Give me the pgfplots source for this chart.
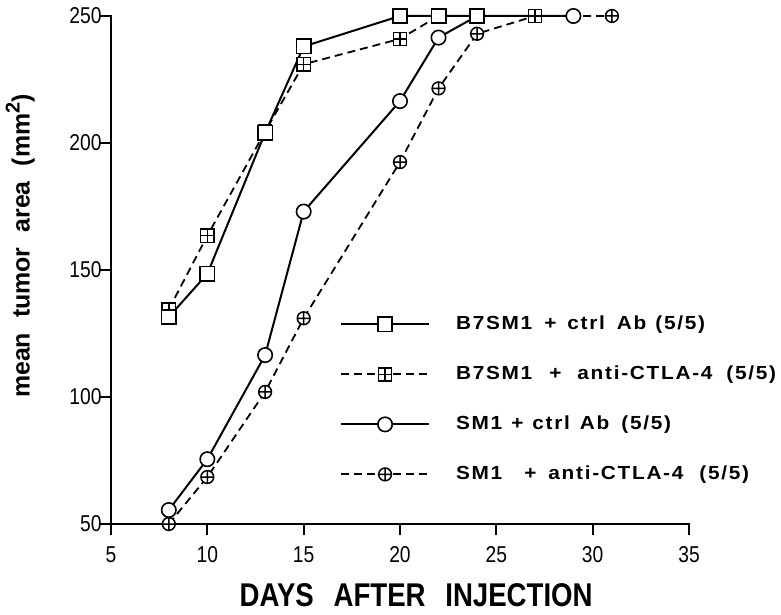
\documentclass[border=0pt]{standalone}
\usepackage{fontspec}
\setmainfont{Liberation Sans}
\newfontfamily\narrowfont[FakeStretch=0.84]{Liberation Sans}
\newfontfamily\legfont[LetterSpace=9,FakeStretch=1.1]{Liberation Sans}
\usepackage{pgfplots}
\pgfplotsset{compat=1.18}
\pgfdeclareplotmark{bplus}{%
  \pgfpathrectangle{\pgfpoint{-\pgfplotmarksize}{-\pgfplotmarksize}}{\pgfpoint{2\pgfplotmarksize}{2\pgfplotmarksize}}%
  \pgfusepathqfillstroke
  \pgfpathmoveto{\pgfpoint{-\pgfplotmarksize}{0pt}}\pgfpathlineto{\pgfpoint{\pgfplotmarksize}{0pt}}%
  \pgfpathmoveto{\pgfpoint{0pt}{-\pgfplotmarksize}}\pgfpathlineto{\pgfpoint{0pt}{\pgfplotmarksize}}%
  \pgfusepathqstroke}
\pgfplotsset{
  solidline/.style={black, line width=2bp, solid},
  dashline/.style={black, line width=1.8bp, dash pattern=on 8bp off 5bp},
  msq/.style={mark=square*, mark size=7.2bp, mark options={solid, fill=white, line width=1.6bp}},
  mbp/.style={mark=bplus, mark size=6.6bp, mark options={solid, fill=white, line width=1.5bp}},
  mci/.style={mark=*, mark size=7.2bp, mark options={solid, fill=white, line width=1.6bp}},
  mop/.style={mark=oplus*, mark size=6.4bp, mark options={solid, fill=white, line width=1.5bp}},
}
\newcommand{\hs}[1]{\hspace{#1bp}}
\begin{document}
\begin{tikzpicture}
\path[use as bounding box] (-111bp,-91bp) rectangle (670bp,524bp);
\begin{axis}[
  scale only axis, width=578bp, height=508bp,
  xmin=5, xmax=35, ymin=50, ymax=250,
  axis x line*=bottom, axis y line*=left,
  axis line style={-, line width=1.8bp, line cap=rect},
  xtick={5,10,...,35}, ytick={50,100,...,250},
  tick align=outside, major tick length=11bp,
  tick style={line width=1.8bp, black},
  ticklabel style={font=\narrowfont\fontsize{23}{23}\selectfont},
  xticklabel style={yshift=-8bp},
  yticklabel style={xshift=5bp},
  /pgf/number format/assume math mode=true,
  clip=false,
  xlabel={\narrowfont\bfseries\fontsize{33}{36}\selectfont DAYS\hspace{0.6em}AFTER\hspace{0.6em}INJECTION},
  xlabel style={at={(axis description cs:0.528,-0.140)}, anchor=center},
  ylabel={\bfseries\fontsize{25}{30}\selectfont mean\hspace{0.6em}tumor\hspace{0.6em}area\hspace{0.6em}(mm\raisebox{0.4em}{\fontsize{20}{20}\selectfont 2})},
  ylabel style={at={(axis description cs:-0.157,0.547)}, anchor=center},
  legend style={at={(axis description cs:0.396,0.413)}, anchor=north west, draw=none, fill=none,
    inner sep=0pt, row sep=30bp, column sep=26bp,
    nodes={inner sep=0pt, text height=15bp, text depth=5bp, font=\legfont\bfseries\fontsize{19}{24}\selectfont}},
  legend cell align=left,
  legend image code/.code={\draw[mark repeat=2,mark phase=2] plot coordinates {(0bp,0bp)(44bp,0bp)(88bp,0bp)};},
]
% lines (dashed first)
\addplot[dashline, forget plot] coordinates {(8,50)(10,68.5)(13,102)(15,131)(20,192.5)(22,221.5)(24,243)(27,250)(31,250)};
\addplot[dashline, forget plot] coordinates {(8,134.5)(10,163.5)(13,204.5)(15,231)(20,241)(22,250)(27,250)};
\addplot[solidline, forget plot] coordinates {(8,55.5)(10,75.5)(13,116.5)(15,173)(20,216.5)(22,241.5)(24,250)(29,250)};
\addplot[solidline, forget plot] coordinates {(8,131.5)(10,148.5)(13,204)(15,238)(20,250)(22,250)(24,250)};
% marks
\addplot[only marks, mop, forget plot] coordinates {(8,50)(10,68.5)(13,102)(15,131)(20,192.5)(22,221.5)(24,243)(31,250)};
\addplot[only marks, mci, forget plot] coordinates {(8,55.5)(10,75.5)(13,116.5)(15,173)(20,216.5)(22,241.5)(29,250)};
\addplot[only marks, mbp, forget plot] coordinates {(8,134.5)(10,163.5)(13,204.5)(15,231)(20,241)(27,250)};
\addplot[only marks, msq, forget plot] coordinates {(8,131.5)(10,148.5)(13,204)(15,238)(20,250)(22,250)(24,250)};
% legend
\addlegendimage{solidline, msq}
\addlegendentry{B7SM1\hs{12}+\hs{11}ctrl\hs{12}Ab\hs{9}(5/5)}
\addlegendimage{dashline, mbp}
\addlegendentry{B7SM1\hs{17}+\hs{16}anti-CTLA-4\hs{14}(5/5)}
\addlegendimage{solidline, mci}
\addlegendentry{SM1\hs{9}+\hs{9}ctrl\hs{10}Ab\hs{12}(5/5)}
\addlegendimage{dashline, mop}
\addlegendentry{SM1\hs{22}+\hs{12}anti-CTLA-4\hs{16}(5/5)}
\end{axis}
\end{tikzpicture}
\end{document}
